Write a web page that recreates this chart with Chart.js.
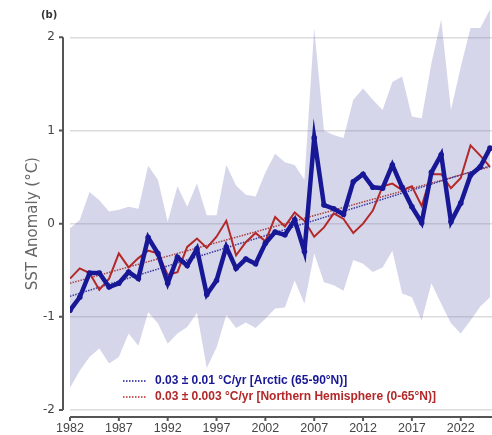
<!DOCTYPE html>
<html>
<head>
<meta charset="utf-8">
<script src="https://cdn.jsdelivr.net/npm/chart.js@4.4.1/dist/chart.umd.min.js"></script>
<style>
  html, body { margin: 0; padding: 0; background: #fff; }
  #wrap { width: 492px; height: 435px; position: relative; }
</style>
</head>
<body>
<div id="wrap"><canvas id="sstChart"></canvas></div>
<script>
// yearly SST anomalies
const years = [1982, 1983, 1984, 1985, 1986, 1987, 1988, 1989, 1990, 1991,
  1992, 1993, 1994, 1995, 1996, 1997, 1998, 1999, 2000, 2001,
  2002, 2003, 2004, 2005, 2006, 2007, 2008, 2009, 2010, 2011,
  2012, 2013, 2014, 2015, 2016, 2017, 2018, 2019, 2020, 2021,
  2022, 2023, 2024, 2025];

const arcticSst = [-0.93, -0.79, -0.53, -0.53, -0.68, -0.64, -0.52, -0.59, -0.15, -0.32,
  -0.64, -0.36, -0.45, -0.27, -0.76, -0.61, -0.25, -0.48, -0.38, -0.43,
  -0.21, -0.09, -0.12, 0.04, -0.30, 0.92, 0.20, 0.16, 0.10, 0.45,
  0.53, 0.39, 0.38, 0.63, 0.39, 0.18, 0.01, 0.55, 0.74, 0.02,
  0.22, 0.52, 0.61, 0.81];

const nhSst = [-0.59, -0.48, -0.53, -0.71, -0.59, -0.32, -0.47, -0.37, -0.29, -0.32,
  -0.55, -0.52, -0.25, -0.16, -0.26, -0.14, 0.03, -0.34, -0.20, -0.10,
  -0.19, 0.07, -0.03, 0.12, 0.03, -0.14, -0.04, 0.11, 0.05, -0.10,
  0.00, 0.14, 0.40, 0.43, 0.36, 0.40, 0.19, 0.53, 0.53, 0.38,
  0.49, 0.84, 0.73, 0.61];

// spread of the Arctic anomaly (shaded band)
const arcticUpper = [-0.05, 0.04, 0.34, 0.25, 0.13, 0.15, 0.18, 0.16, 0.62, 0.47,
  0.02, 0.40, 0.18, 0.43, 0.09, 0.09, 0.63, 0.41, 0.31, 0.29,
  0.55, 0.75, 0.66, 0.63, 0.47, 2.10, 1.00, 0.95, 0.92, 1.33,
  1.45, 1.33, 1.22, 1.52, 1.58, 1.15, 1.13, 1.72, 2.19, 1.22,
  1.68, 2.10, 2.10, 2.30];

const arcticLower = [-1.76, -1.58, -1.43, -1.34, -1.50, -1.43, -1.18, -1.31, -0.95, -1.07,
  -1.29, -1.18, -1.11, -0.96, -1.55, -1.33, -0.98, -1.12, -1.06, -1.12,
  -1.02, -0.91, -0.90, -0.61, -0.86, -0.32, -0.63, -0.66, -0.72, -0.39,
  -0.43, -0.52, -0.47, -0.29, -0.75, -0.79, -1.04, -0.64, -0.86, -1.07,
  -1.18, -1.04, -0.89, -0.79];

// linear trends, end points
const trendYears = [1982, 2025];
const arcticTrend = [-0.78, 0.62];
const nhTrend = [-0.64, 0.61];

const xTickYears = [1982, 1987, 1992, 1997, 2002, 2007, 2012, 2017, 2022];
const yTickValues = [-2, -1, 0, 1, 2];
const legendLabels = [
  "0.03 \u00b1 0.01 \u00b0C/yr [Arctic (65-90\u00b0N)]",
  "0.03 \u00b1 0.003 \u00b0C/yr [Northern Hemisphere (0-65\u00b0N)]"
];

const ARCTIC_BLUE = "#181896";
const NH_RED = "#b32828";

function toPoints(xs, ys) {
  return xs.map((x, i) => ({ x: x, y: ys[i] }));
}

// spines offset from the plot (seaborn style), axis title, panel tag, legend
const decorations = {
  id: "decorations",
  afterDraw(chart) {
    const { ctx, chartArea } = chart;
    const xs = chart.scales.x;
    const ys = chart.scales.y;
    const yTop = ys.getPixelForValue(2);
    const yBot = ys.getPixelForValue(-2);
    ctx.save();

    ctx.strokeStyle = "#555";
    ctx.lineWidth = 2;
    const sx = chartArea.left - 7;
    ctx.beginPath();
    ctx.moveTo(sx, yTop);
    ctx.lineTo(sx, yBot);
    yTickValues.forEach(v => {
      const py = ys.getPixelForValue(v);
      ctx.moveTo(sx - 4, py);
      ctx.lineTo(sx, py);
    });
    const sy = chartArea.bottom + 7;
    ctx.moveTo(xs.getPixelForValue(years[0]), sy);
    ctx.lineTo(chartArea.right, sy);
    xTickYears.forEach(v => {
      const px = xs.getPixelForValue(v);
      ctx.moveTo(px, sy);
      ctx.lineTo(px, sy + 4);
    });
    ctx.stroke();

    // y title centred on the spine
    ctx.save();
    ctx.translate(33, (yTop + yBot) / 2);
    ctx.rotate(-Math.PI / 2);
    ctx.fillStyle = "#666";
    ctx.font = "15px 'DejaVu Sans'";
    ctx.textAlign = "center";
    ctx.textBaseline = "middle";
    ctx.fillText("SST Anomaly (\u00b0C)", 0, 0);
    ctx.restore();

    ctx.fillStyle = "#333";
    ctx.font = "bold 10px 'DejaVu Sans'";
    ctx.textAlign = "left";
    ctx.textBaseline = "middle";
    ctx.fillText("(b)", 41, 15);

    // legend
    const colors = [ARCTIC_BLUE, NH_RED];
    ctx.font = "bold 12px 'Liberation Sans'";
    legendLabels.forEach((label, i) => {
      const ly = 381 + i * 16;
      ctx.strokeStyle = colors[i];
      ctx.lineWidth = 1.5;
      ctx.setLineDash([1.5, 1.5]);
      ctx.beginPath();
      ctx.moveTo(123, ly);
      ctx.lineTo(147, ly);
      ctx.stroke();
      ctx.setLineDash([]);
      ctx.fillStyle = colors[i];
      ctx.fillText(label, 155, ly);
    });
    ctx.restore();
  }
};

const chart = new Chart(document.getElementById("sstChart"), {
  type: "line",
  data: {
    datasets: [
      {
        label: "Arctic",
        data: toPoints(years, arcticSst),
        borderColor: ARCTIC_BLUE,
        backgroundColor: ARCTIC_BLUE,
        borderWidth: 4.5,
        pointRadius: 2.8,
        pointBorderWidth: 0,
        tension: 0,
        order: 0,
      },
      {
        label: "Northern Hemisphere",
        data: toPoints(years, nhSst),
        borderColor: NH_RED,
        borderWidth: 2,
        pointRadius: 0,
        tension: 0,
        order: 1,
      },
      {
        label: "Arctic trend",
        data: toPoints(trendYears, arcticTrend),
        borderColor: "#3a3aa0",
        borderWidth: 1.5,
        borderDash: [1.5, 1.2],
        pointRadius: 0,
        order: 2,
      },
      {
        label: "NH trend",
        data: toPoints(trendYears, nhTrend),
        borderColor: "#a84040",
        borderWidth: 1.5,
        borderDash: [1.5, 1.2],
        pointRadius: 0,
        order: 2,
      },
      {
        label: "upper",
        data: toPoints(years, arcticUpper),
        borderWidth: 0,
        pointRadius: 0,
        backgroundColor: "rgba(130, 130, 195, 0.33)",
        fill: "+1",
        order: 3,
      },
      {
        label: "lower",
        data: toPoints(years, arcticLower),
        borderWidth: 0,
        pointRadius: 0,
        fill: false,
        order: 3,
      },
    ],
  },
  options: {
    responsive: true,
    maintainAspectRatio: false,
    animation: false,
    layout: { padding: 0, autoPadding: false },
    plugins: {
      legend: { display: false },
      tooltip: { enabled: false },
    },
    scales: {
      x: {
        type: "linear",
        min: 1982,
        max: 2025.2,
        grid: { display: false, drawTicks: false },
        border: { display: false },
        afterBuildTicks: s => { s.ticks = xTickYears.map(v => ({ value: v })); },
        afterFit: s => { s.height = 25; s.paddingLeft = 0; s.paddingRight = 0; },
        ticks: {
          padding: 11,
          color: "#444",
          font: { family: "'Liberation Sans'", size: 12.5 },
          maxRotation: 0,
          callback: v => String(v),
        },
      },
      y: {
        min: -2,
        max: 2.4,
        grid: { color: "#dcdcdc", lineWidth: 1.5, drawTicks: false },
        border: { display: false },
        afterBuildTicks: s => { s.ticks = yTickValues.map(v => ({ value: v })); },
        afterFit: s => { s.width = 70; s.paddingTop = 0; s.paddingBottom = 0; },
        ticks: {
          padding: 15,
          color: "#444",
          font: { family: "'DejaVu Sans'", size: 12 },
          callback: v => String(v),
        },
      },
    },
  },
  plugins: [decorations],
});
</script>
</body>
</html>
